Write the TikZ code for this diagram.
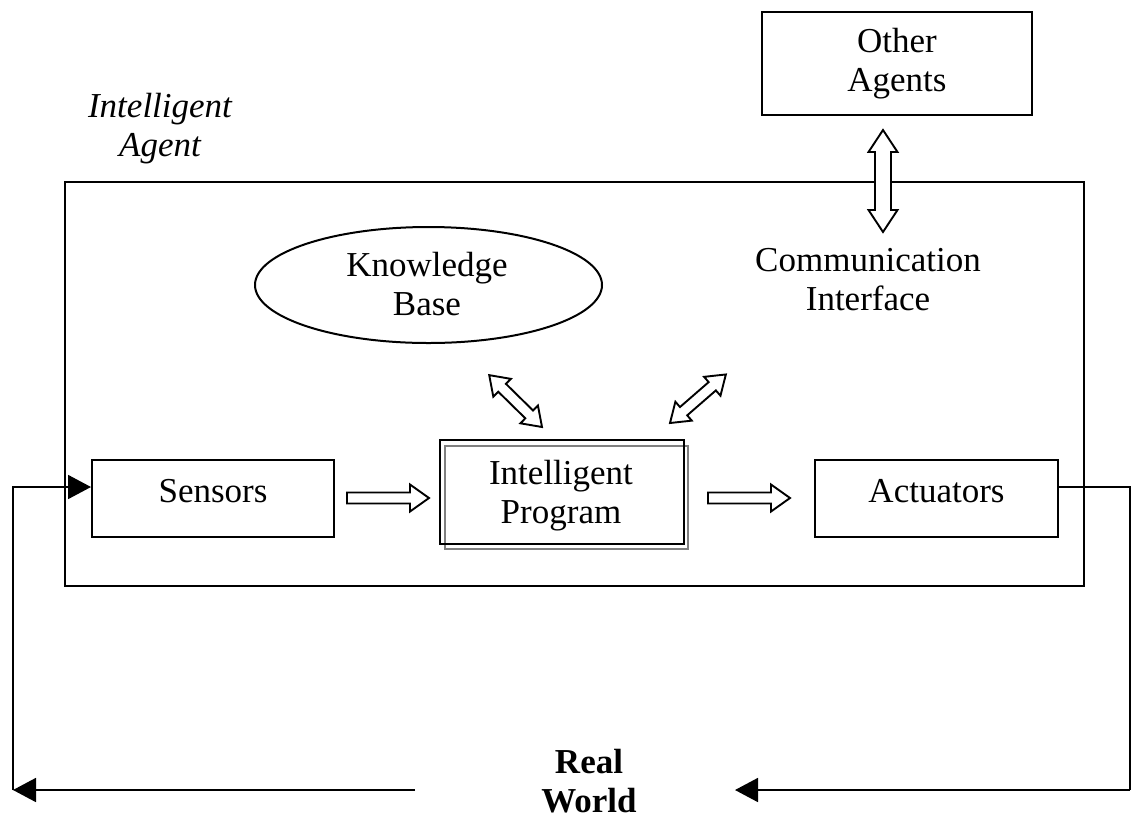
\documentclass[tikz,border=0pt]{standalone}
\usepackage{fontspec}
\setmainfont{Liberation Serif}
\usetikzlibrary{arrows.meta,shapes.geometric}

\tikzset{
  txt/.style={font=\fontsize{35}{39}\selectfont, inner sep=0pt, align=center},
  box/.style={draw, line width=2pt, txt},
  wire/.style={line width=1.8pt},
  fbarrow/.style={wire, -{Triangle[length=23pt,width=24pt]}},
  blk/.style={draw, line width=1.9pt, fill=white, line join=miter},
  % block arrow with one head: length / shaft half-width / head half-width / head length
  pics/onearrow/.style args={#1/#2/#3/#4}{code={
    \draw[blk] (0,-#2) -- ({#1-#4},-#2) -- ({#1-#4},-#3) -- (#1,0)
      -- ({#1-#4},#3) -- ({#1-#4},#2) -- (0,#2) -- cycle;}},
  % block arrow with two heads, same parameters
  pics/twoarrow/.style args={#1/#2/#3/#4}{code={
    \draw[blk] (0,0) -- (#4,#3) -- (#4,#2) -- ({#1-#4},#2) -- ({#1-#4},#3)
      -- (#1,0) -- ({#1-#4},-#3) -- ({#1-#4},-#2) -- (#4,-#2) -- (#4,-#3) -- cycle;}}
}

\begin{document}
\begin{tikzpicture}[x=1pt,y=-1pt]
\useasboundingbox (0,0) rectangle (1131,812);

% agent frame and its caption
\node[draw, line width=2pt, minimum width=1019pt, minimum height=404pt, inner sep=0pt]
  (agent) at (574.5,384) {};
\node[txt, font=\fontsize{35}{39}\selectfont\itshape] (agentlabel) at (160,129) {Intelligent\\Agent};

% other agents
\node[box, minimum width=270pt, minimum height=103pt] (others) at (897,63.5) {Other\\Agents};

% knowledge base and communication interface
\node[draw, ellipse, line width=2pt, minimum width=347pt, minimum height=116pt, inner sep=0pt]
  (kb) at (428.5,285) {};
\node[txt] (kbtext) at (427,284) {Knowledge\\Base};
\node[txt] (comm) at (868,280) {Communication\\Interface};

% sensors, program, actuators
\node[box, minimum width=242pt, minimum height=77pt, text height=24pt, text depth=16pt]
  (sensors) at (213,498.5) {Sensors};
\node[draw, gray, line width=1.5pt, minimum width=243pt, minimum height=103pt, inner sep=0pt]
  (progshadow) at (566.5,497.5) {};
\node[box, minimum width=244pt, minimum height=104pt] (program) at (562,492) {};
\node[txt] (progtext) at (561,496) {Intelligent\\Program};
\node[box, minimum width=243pt, minimum height=77pt, text height=24pt, text depth=16pt]
  (actuators) at (936.5,498.5) {Actuators};

% flow arrows between the blocks
\pic at (347,498) {onearrow=82/5.5/13.5/19};
\pic at (708,498) {onearrow=82/5.5/13.5/19};
\pic[rotate=90] at (883,232) {twoarrow=102/8/14.5/22};
\pic[rotate=135.5] at (542,427) {twoarrow=74/5.5/12.5/18};
\pic[rotate=41] at (670,423) {twoarrow=74/5.5/12.5/18};

% real world loop
\node[txt, font=\fontsize{35}{39}\selectfont\bfseries, anchor=north] (world) at (589,749) {Real\\World};
\coordinate (leftend) at (415,790);
\coordinate (rightend) at (1130,790);
\coordinate (lcorner) at (13,790);
\draw[fbarrow] (lcorner) |- (sensors.west |- 0,487);
\draw[fbarrow] (leftend) -- (lcorner);
\draw[wire] (actuators.east |- 0,487) -| (rightend);
\draw[fbarrow] (rightend) -- (735,790);
\end{tikzpicture}
\end{document}
